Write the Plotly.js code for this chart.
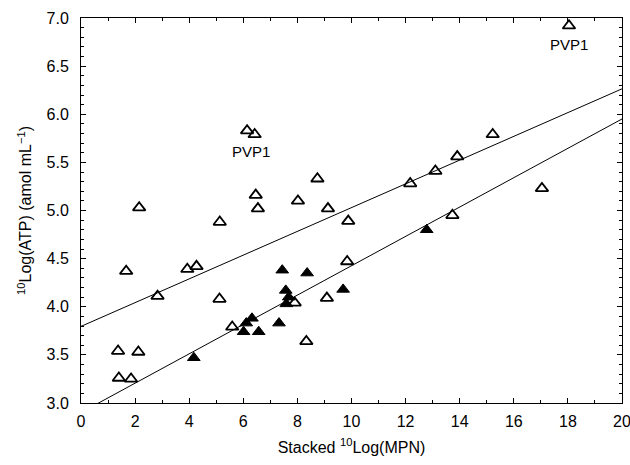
<!DOCTYPE html>
<html>
<head>
<meta charset="utf-8">
<script src="https://cdn.plot.ly/plotly-3.0.1.min.js"></script>
<style>html,body{margin:0;padding:0;background:#fff;overflow:hidden;}#chart{width:630px;height:465px;}</style>
</head>
<body>
<div id="chart"></div>
<script>
// Open triangles
const openX = [1.37,1.40,1.85,2.12,1.67,2.15,2.83,3.93,4.27,5.13,5.12,5.59,6.14,6.42,6.46,6.54,7.90,8.02,8.33,8.74,9.13,9.09,9.88,9.84,12.17,13.10,13.73,13.91,15.22,17.04,18.04];
const openY = [3.54,3.26,3.25,3.53,4.37,5.03,4.11,4.39,4.42,4.88,4.08,3.79,5.83,5.79,5.16,5.02,4.04,5.10,3.64,5.33,5.02,4.09,4.89,4.47,5.28,5.41,4.95,5.56,5.79,5.23,6.92];
// Filled triangles
const filledX = [4.17,6.01,6.11,6.32,6.57,7.32,7.44,7.57,7.59,7.68,8.36,9.69,12.78];
const filledY = [3.47,3.74,3.83,3.88,3.74,3.83,4.38,4.17,4.03,4.10,4.35,4.18,4.80];
// Regression lines: [intercept, slope]
const upperFit = [3.796, 0.1234];
const lowerFit = [2.901, 0.1525];
const fitRange = [0, 20];
// Labels
const labelText = ["PVP1", "PVP1"];
const labelX = [18.04, 6.28];
const labelY = [6.92, 5.81];

const lineY = (fit) => fitRange.map(x => fit[0] + fit[1] * x);

const traces = [
  {x: fitRange, y: lineY(upperFit), mode: 'lines', line: {color: '#000', width: 1}, hoverinfo: 'skip'},
  {x: fitRange, y: lineY(lowerFit), mode: 'lines', line: {color: '#000', width: 1}, hoverinfo: 'skip'},
  {x: openX, y: openY, mode: 'markers', marker: {symbol: 'triangle-up-open', size: 11, color: '#000', line: {width: 1.8, color: '#000'}}},
  {x: filledX, y: filledY, mode: 'markers', marker: {symbol: 'triangle-up', size: 11, color: '#000', line: {width: 1, color: '#000'}}}
];

const annotations = labelText.map((t, i) => ({
  x: labelX[i], y: labelY[i], xref: 'x', yref: 'y', text: t, showarrow: false,
  yshift: -19, font: {family: 'Liberation Sans, Arial, sans-serif', size: 15, color: '#000'}
}));

const axisCommon = {
  showgrid: false, zeroline: false, showline: true, linecolor: '#000', linewidth: 1,
  mirror: 'allticks', ticks: 'inside', ticklen: 5, tickwidth: 1, tickcolor: '#000',
  ticklabeloverflow: 'allow',
  tickfont: {family: 'Liberation Sans, Arial, sans-serif', size: 16, color: '#000'}
};

const layout = {
  width: 630, height: 465,
  margin: {l: 81, r: 8, t: 18, b: 62},
  paper_bgcolor: '#fff', plot_bgcolor: '#fff',
  showlegend: false,
  font: {family: 'Liberation Sans, Arial, sans-serif', color: '#000'},
  xaxis: Object.assign({}, axisCommon, {
    range: [0, 20], tickvals: [0,2,4,6,8,10,12,14,16,18,20], ticktext: ['0','2','4','6','8','10','12','14','16','18','20'],
    minor: {dtick: 1, ticks: 'inside', ticklen: 3, tickcolor: '#000'},
    ticklabelstandoff: 4,
    title: {text: 'Stacked <sup>10</sup>Log(MPN)', font: {size: 16, color: '#000'}, standoff: 12}
  }),
  yaxis: Object.assign({}, axisCommon, {
    range: [3, 7], tickvals: [3,3.5,4,4.5,5,5.5,6,6.5,7], ticktext: ['3.0','3.5','4.0','4.5','5.0','5.5','6.0','6.5','7.0'],
    minor: {dtick: 0.1, ticks: 'inside', ticklen: 3, tickcolor: '#000'},
    ticklabelstandoff: 8,
    title: {text: '<sup>10</sup>Log(ATP) (amol mL<sup>−1</sup>)', font: {size: 16, color: '#000'}, standoff: 10}
  }),
  annotations: annotations
};

Plotly.newPlot('chart', traces, layout, {displayModeBar: false, staticPlot: true});
</script>
</body>
</html>
